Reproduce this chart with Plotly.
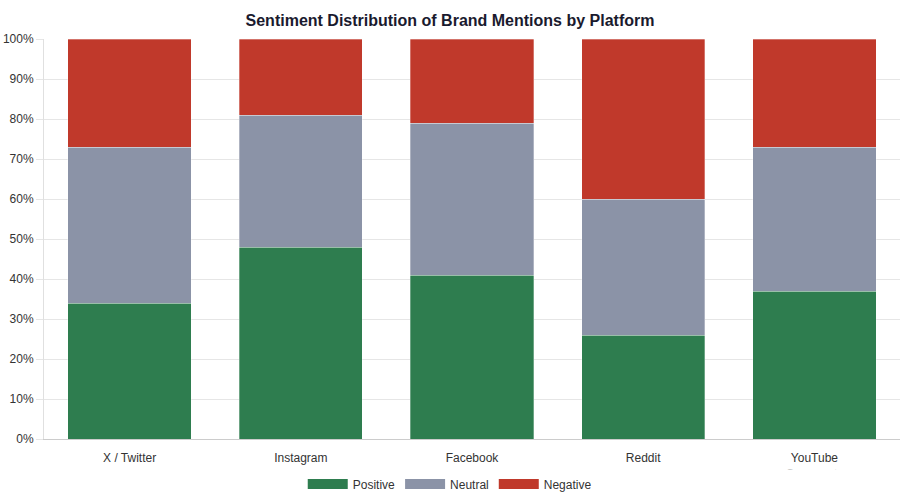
import plotly.graph_objects as go

platforms = ["X / Twitter", "Instagram", "Facebook", "Reddit", "YouTube<br>Comments"]
positive = [34, 48, 41, 26, 37]
neutral = [39, 33, 38, 34, 36]
negative = [27, 19, 21, 40, 27]

series_names = ["Positive", "Neutral", "Negative"]
series_values = [positive, neutral, negative]
series_colors = ["#2e7d4f", "#8b93a7", "#c0392b"]

FONT = "Liberation Sans, Arial, sans-serif"

fig = go.Figure()
for name, vals, col in zip(series_names, series_values, series_colors):
    fig.add_trace(go.Bar(
        x=platforms, y=vals, name=name, legendgroup=name, showlegend=False,
        marker=dict(color=col, line=dict(color="rgba(255,255,255,0.6)", width=0.5)),
        hovertemplate="%{x}: %{y}%<extra>" + name + "</extra>",
    ))
# legend swatches as wide bars (line-style legend entries)
for name, col in zip(series_names, series_colors):
    fig.add_trace(go.Scatter(
        x=[None], y=[None], mode="lines", name=name, legendgroup=name,
        line=dict(color=col, width=12), hoverinfo="skip",
    ))

fig.update_layout(
    width=900, height=500,
    barmode="stack", bargap=0.28,
    paper_bgcolor="white", plot_bgcolor="white",
    margin=dict(l=44, r=0, t=39, b=61, autoexpand=False),
    font=dict(family=FONT, size=12, color="#333333"),
    title=dict(text="<b>Sentiment Distribution of Brand Mentions by Platform</b>",
               x=0.5, xanchor="center", y=0.96, yanchor="middle",
               font=dict(size=16, color="#1a1a2e", family=FONT)),
    legend=dict(orientation="h", x=0.474, xanchor="center", y=-0.1125, yanchor="middle",
                bgcolor="rgba(0,0,0,0)", font=dict(size=12, color="#333333"),
                itemwidth=40, traceorder="normal"),
    showlegend=True,
)
fig.update_yaxes(range=[0, 100], dtick=10, ticksuffix="%", gridcolor="#e6e6e6",
                 showline=True, linecolor="#e0e0e0", ticks="outside", ticklen=7,
                 tickcolor="#e6e6e6", zeroline=False, fixedrange=True, automargin=False)
fig.update_xaxes(showline=True, linecolor="#cccccc", ticks="", showgrid=False,
                 ticklabelstandoff=8,
                 tickfont=dict(size=12, color="#333333"), automargin=False)
# white mask imitating the clipped second line of the last category label
fig.add_shape(type="rect", xref="paper", yref="paper", x0=0.5, x1=1.05,
              y0=-0.25, y1=-0.0755, fillcolor="white", line=dict(width=0), layer="above")

fig.write_html("out.html", config={"displayModeBar": False},
               post_script="document.body.style.margin='0';")
